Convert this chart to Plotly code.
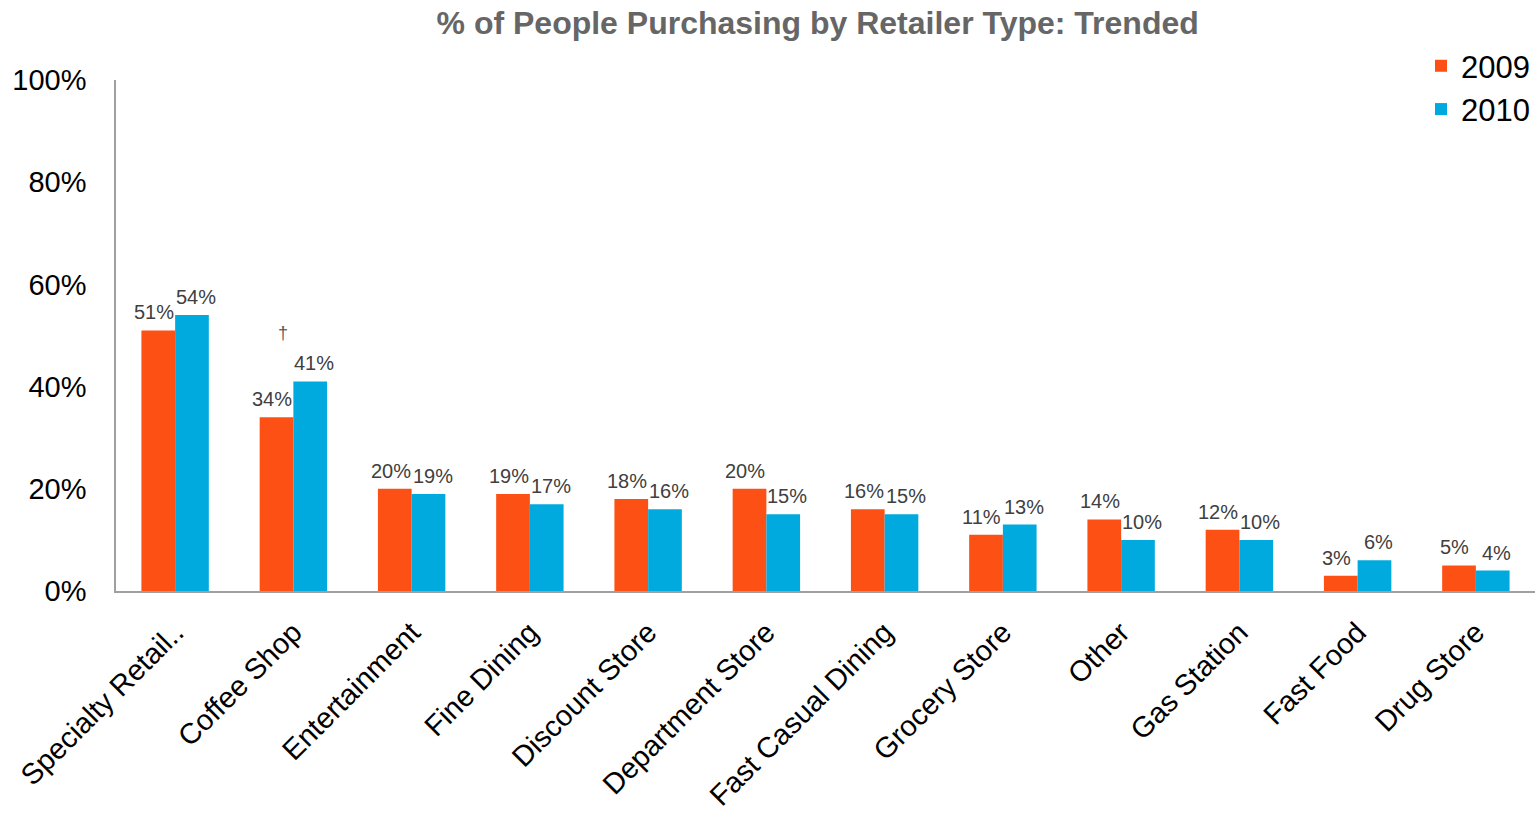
import plotly.graph_objects as go

categories = [
    "Specialty Retail..", "Coffee Shop", "Entertainment", "Fine Dining",
    "Discount Store", "Department Store", "Fast Casual Dining", "Grocery Store",
    "Other", "Gas Station", "Fast Food", "Drug Store",
]
values_2009 = [51, 34, 20, 19, 18, 20, 16, 11, 14, 12, 3, 5]
values_2010 = [54, 41, 19, 17, 16, 15, 15, 13, 10, 10, 6, 4]
y_ticks = [0, 20, 40, 60, 80, 100]

ORANGE = "#FD5014"
BLUE = "#00AADF"
FONT = "Liberation Sans, Arial, sans-serif"

fig = go.Figure()
series = [("2009", values_2009, ORANGE, -21), ("2010", values_2010, BLUE, 21)]
for name, vals, color, _ in series:
    fig.add_trace(go.Bar(
        name=name,
        x=categories,
        y=vals,
        marker=dict(color=color, line=dict(width=0)),
    ))

# value labels sitting a little above each bar
for name, vals, color, dx in series:
    for cat, v in zip(categories, vals):
        fig.add_annotation(
            x=cat, y=v, xshift=dx, yshift=18, yanchor="middle",
            text=f"{v}%", showarrow=False,
            font=dict(family=FONT, size=20, color="#404040"),
        )

# significance marker above the Coffee Shop pair
fig.add_annotation(
    x="Coffee Shop", y=values_2010[1], yshift=48, xshift=-10,
    text="†", showarrow=False,
    font=dict(family=FONT, size=18, color="#595959"),
)

fig.update_layout(
    width=1537, height=813,
    margin=dict(l=116, r=2, t=80, b=222),
    paper_bgcolor="white", plot_bgcolor="white",
    barmode="group", bargap=0.43, bargroupgap=0,
    title=dict(
        text="<b>% of People Purchasing by Retailer Type: Trended</b>",
        x=0.532, xanchor="center", y=0.972, yanchor="middle",
        font=dict(family=FONT, size=32, color="#666666"),
    ),
    legend=dict(
        x=1.0, xanchor="right", y=1.08, yanchor="top",
        font=dict(family=FONT, size=31, color="#000000"),
        itemwidth=30, tracegroupgap=0, bgcolor="rgba(0,0,0,0)",
    ),
    xaxis=dict(
        showline=True, linecolor="#A0A0A0", linewidth=1.5,
        tickangle=-45, ticks="", automargin=False,
        tickfont=dict(family=FONT, size=29, color="#000000"),
        ticklabelstandoff=11,
        showgrid=False,
    ),
    yaxis=dict(
        range=[0, 100], tickvals=y_ticks,
        ticktext=[f"{t}%" for t in y_ticks],
        showline=True, linecolor="#A0A0A0", linewidth=1.5,
        ticks="", showgrid=False, zeroline=False, automargin=False,
        tickfont=dict(family=FONT, size=29, color="#000000"),
        ticklabelstandoff=22,
    ),
)

fig.write_html("out.html")
